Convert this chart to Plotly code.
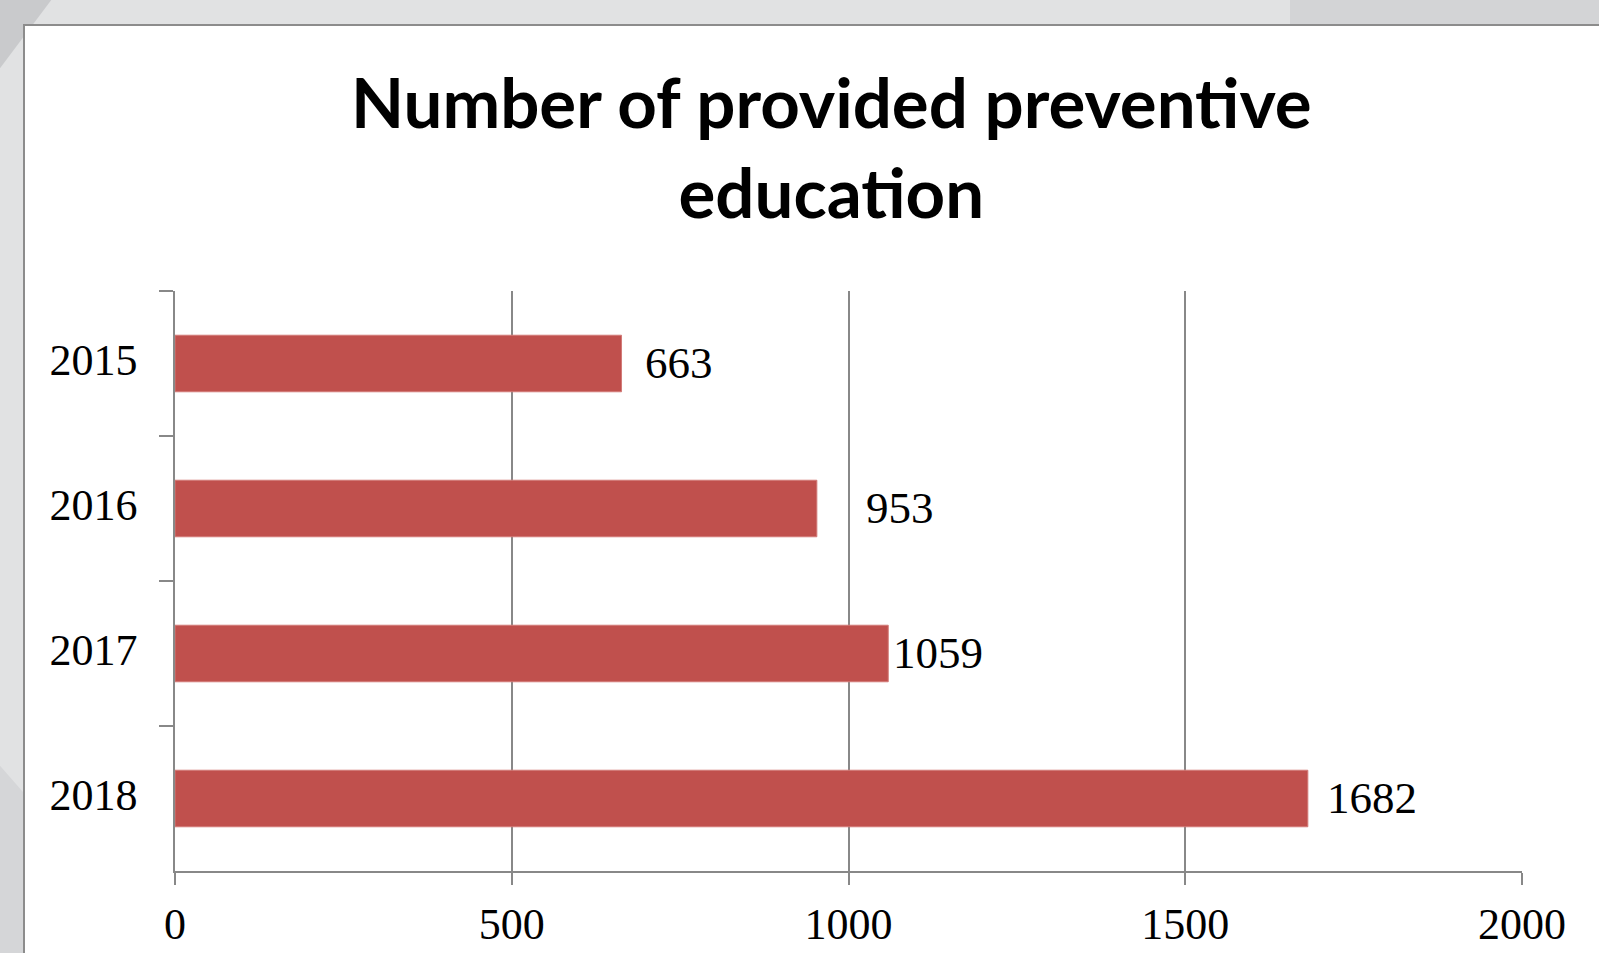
import plotly.graph_objects as go

years = ["2015", "2016", "2017", "2018"]
values = [663, 953, 1059, 1682]
label_shift = [21, 47, 3, 17]  # pixel offsets of data labels (style)
x_ticks = [0, 500, 1000, 1500, 2000]

W, H = 1599, 953
L, R, T, B = 175, 1522, 291, 871


def px(x):
    return (x - L) / (R - L)


def py(y):
    return (B - y) / (B - T)


fig = go.Figure()
fig.add_trace(go.Bar(
    y=years, x=values, orientation="h", width=0.39,
    marker=dict(color="#C0504D", line=dict(color="#D27A77", width=1)),
    hoverinfo="x+y",
))

serif = "Liberation Serif"
for i, (v, s) in enumerate(zip(values, label_shift)):
    fig.add_annotation(x=v, y=i, xref="x", yref="y", text=str(v), showarrow=False, xanchor="left",
                       yanchor="middle", xshift=s, yshift=1, font=dict(family=serif, size=45, color="#000"))

shapes = []
# background decorations
shapes.append(dict(type="path", xref="paper", yref="paper",
                   path=f"M {px(1290)} {py(-5)} L {px(W+5)} {py(-5)} L {px(W+5)} {py(40)} L {px(1290)} {py(40)} Z",
                   fillcolor="#d3d4d6", line=dict(width=0), layer="below"))
shapes.append(dict(type="path", xref="paper", yref="paper",
                   path=f"M {px(-5)} {py(-5)} L {px(55)} {py(-5)} L {px(-5)} {py(75)} Z",
                   fillcolor="#c9cacc", line=dict(width=0), layer="below"))
shapes.append(dict(type="path", xref="paper", yref="paper",
                   path=f"M {px(-5)} {py(760)} L {px(30)} {py(800)} L {px(30)} {py(H+5)} L {px(-5)} {py(H+5)} Z",
                   fillcolor="#d5d6d8", line=dict(width=0), layer="below"))
# white panel
shapes.append(dict(type="rect", xref="paper", yref="paper", x0=px(24), x1=px(W + 20), y0=py(25), y1=py(H + 20),
                   fillcolor="white", line=dict(color="#8c8c8c", width=2), layer="below"))
fig.update_layout(shapes=shapes)

fig.add_annotation(xref="paper", yref="paper", x=px(831), y=py(147), xanchor="center", yanchor="middle",
                   text="<b>Number of provided preventive<br>education</b>", showarrow=False,
                   font=dict(family="Lato", size=69, color="#000"), align="center")

fig.update_xaxes(range=[0, 2000], tickvals=x_ticks, ticktext=[str(t) for t in x_ticks],
                 showgrid=True, gridcolor="#888888", gridwidth=1.5,
                 showline=True, linecolor="#888888", linewidth=1.5,
                 ticks="outside", ticklen=12, tickcolor="#888888", tickwidth=1.5,
                 ticklabelstandoff=1, zeroline=False, automargin=False,
                 tickfont=dict(family=serif, size=44, color="#000"), fixedrange=True)
fig.update_yaxes(type="category", range=[3.5, -0.5], categoryorder="array", categoryarray=years,
                 showgrid=False, showline=True, linecolor="#888888", linewidth=1.5,
                 ticks="outside", ticklen=14, tickcolor="#888888", tickwidth=1.5, tickson="boundaries",
                 ticklabelstandoff=27, ticklabelshift=4, automargin=False,
                 tickfont=dict(family=serif, size=44, color="#000"), fixedrange=True)

fig.update_layout(width=W, height=H, margin=dict(l=L, r=W - R, t=T, b=H - B),
                  paper_bgcolor="#e1e2e3", plot_bgcolor="white", showlegend=False,
                  font=dict(family=serif))
fig.write_html("out.html", config={"displayModeBar": False},
               post_script="document.body.style.margin='0px';document.body.style.overflow='hidden';")
